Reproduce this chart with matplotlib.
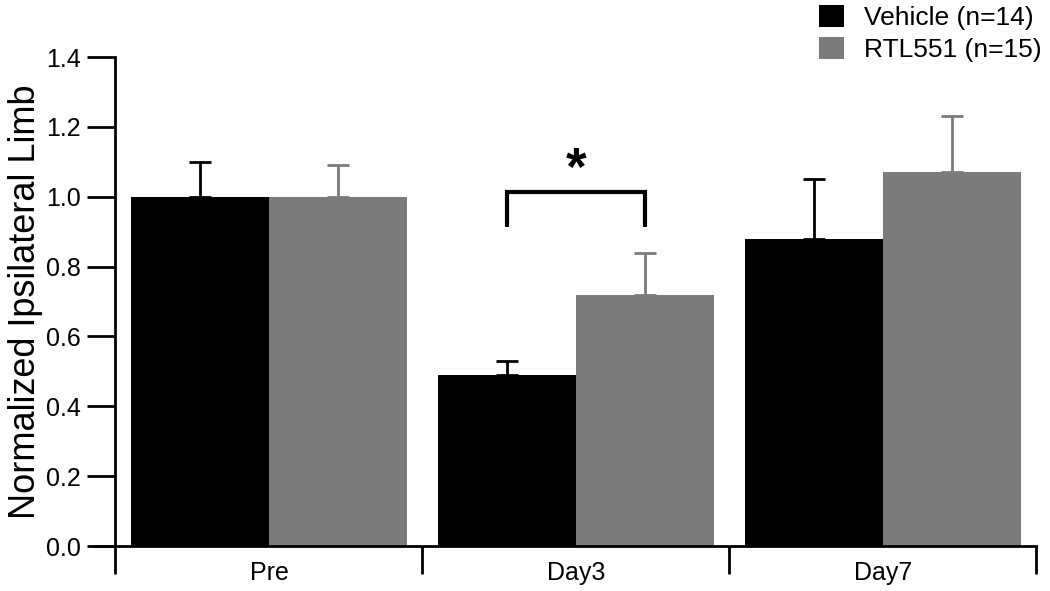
import numpy as np
import matplotlib
matplotlib.use('Agg')
import matplotlib.pyplot as plt

plt.rcParams['font.family'] = ['Liberation Sans', 'DejaVu Sans']

#%% data
days = ['Pre', 'Day3', 'Day7']
vehicle = [1.00, 0.49, 0.88]
vehicle_err = [0.10, 0.04, 0.17]
rtl551 = [1.00, 0.72, 1.07]
rtl551_err = [0.09, 0.12, 0.16]
labels = ['Vehicle (n=14)', 'RTL551 (n=15)']
yticks = [0.0, 0.2, 0.4, 0.6, 0.8, 1.0, 1.2, 1.4]

#%%
black = '#000000'
gray = '#7b7b7b'
x = np.arange(len(days))
w = 0.45

fig = plt.figure(figsize=(10.5, 5.91), dpi=100)
ax = fig.add_axes([0.0895, 0.0761, 0.8976, 0.8274])

b1 = ax.bar(x - w / 2, vehicle, w, color=black, label=labels[0], zorder=2)
b2 = ax.bar(x + w / 2, rtl551, w, color=gray, label=labels[1], zorder=2)
ax.errorbar(x - w / 2, vehicle, yerr=[np.zeros(3), vehicle_err], fmt='none',
            ecolor=black, elinewidth=2, capsize=8, capthick=2, zorder=1)
ax.errorbar(x + w / 2, rtl551, yerr=[np.zeros(3), rtl551_err], fmt='none',
            ecolor=gray, elinewidth=2, capsize=8, capthick=2, zorder=1)

# significance bracket for Day3
x0, x1 = 1 - w / 2, 1 + w / 2
ax.plot([x0, x0, x1, x1], [0.914, 1.014, 1.014, 0.914], color=black, lw=3,
        solid_capstyle='butt', solid_joinstyle='miter')
ax.text(1, 1.075, '*', ha='center', va='center', fontsize=38, fontweight='bold')

ax.set_xlim(-0.57, 2.5)
ax.set_ylim(0, 1.4)
ax.set_yticks(yticks)
ax.set_yticklabels([f'{t:.1f}' for t in yticks])
ax.set_xticks([-0.5, 0.5, 1.5, 2.5])
ax.set_xticklabels([])
ax.set_xticks(x, minor=True)
ax.set_xticklabels(days, minor=True)
ax.tick_params(axis='x', which='minor', length=0, labelsize=18, pad=11)
ax.tick_params(axis='x', which='major', length=20, width=2, direction='out')
ax.tick_params(axis='y', length=20, width=2, labelsize=18, pad=5)

ax.spines['top'].set_visible(False)
ax.spines['right'].set_visible(False)
ax.spines['left'].set_position(('data', -0.5))
ax.spines['left'].set_linewidth(2)
ax.spines['bottom'].set_linewidth(2)
ax.set_ylabel('Normalized Ipsilateral Limb', fontsize=26, labelpad=2)

fig.legend(handles=[b1, b2], loc='upper left', bbox_to_anchor=(0.770, 1.01),
           frameon=False, fontsize=19, handlelength=0.95, handleheight=0.95,
           handletextpad=0.75, labelspacing=0.25, borderaxespad=0)

fig.savefig('out.png', dpi=100)
